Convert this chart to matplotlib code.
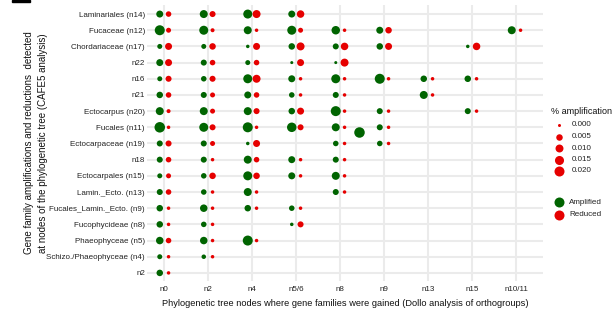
import numpy as np
import matplotlib
matplotlib.use("Agg")
import matplotlib.pyplot as plt
from matplotlib.patches import Rectangle

plt.rcParams['font.family'] = ['Liberation Sans', 'DejaVu Sans']

nan = np.nan

# nodes where gene families were gained (x) and tree nodes (y, top to bottom)
gain_nodes = ['n0', 'n2', 'n4', 'n5/6', 'n8', 'n9', 'n13', 'n15', 'n10/11']
tree_nodes = ['Laminariales (n14)', 'Fucaceae (n12)', 'Chordariaceae (n17)', 'n22',
              'n16', 'n21', 'Ectocarpus (n20)', 'Fucales (n11)', 'Ectocarpaceae (n19)',
              'n18', 'Ectocarpales (n15)', 'Lamin._Ecto. (n13)', 'Fucales_Lamin._Ecto. (n9)',
              'Fucophycideae (n8)', 'Phaeophyceae (n5)', 'Schizo./Phaeophyceae (n4)', 'n2']

# % amplification per tree node (rows) and gain node (columns)
amplified = [
    [0.0065, 0.0102, 0.0147, 0.0065, nan, nan, nan, nan, nan],
    [0.0200, 0.0147, 0.0102, 0.0147, 0.0123, 0.0065, nan, nan, 0.0102],
    [0.0016, 0.0016, 0.0001, 0.0050, 0.0037, 0.0050, nan, 0.0001, nan],
    [0.0065, 0.0037, 0.0016, 0.0000, 0.0000, nan, nan, nan, nan],
    [0.0016, 0.0026, 0.0147, 0.0065, 0.0147, 0.0200, 0.0050, 0.0050, nan],
    [0.0050, 0.0037, 0.0065, 0.0026, 0.0037, nan, 0.0102, nan, nan],
    [0.0102, 0.0102, 0.0102, 0.0050, 0.0200, 0.0037, nan, 0.0037, nan],
    [0.0230, 0.0147, 0.0200, 0.0172, 0.0102, 0.0037, nan, nan, nan],
    [0.0037, 0.0037, 0.0001, nan, 0.0026, 0.0026, nan, nan, nan],
    [0.0037, 0.0037, 0.0102, 0.0065, 0.0037, nan, nan, nan, nan],
    [0.0016, 0.0026, 0.0147, 0.0065, 0.0102, nan, nan, nan, nan],
    [0.0037, 0.0026, 0.0102, nan, 0.0037, nan, nan, nan, nan],
    [0.0050, 0.0083, 0.0050, 0.0026, nan, nan, nan, nan, nan],
    [0.0050, 0.0026, nan, 0.0001, nan, nan, nan, nan, nan],
    [0.0083, 0.0083, 0.0200, nan, nan, nan, nan, nan, nan],
    [0.0016, 0.0009, nan, nan, nan, nan, nan, nan, nan],
    [0.0050, nan, nan, nan, nan, nan, nan, nan, nan],
]

reduced = [
    [0.0026, 0.0037, 0.0102, 0.0083, nan, nan, nan, nan, nan],
    [0.0016, 0.0004, 0.0001, 0.0016, 0.0001, 0.0050, nan, nan, 0.0001],
    [0.0065, 0.0050, 0.0065, 0.0102, 0.0083, 0.0065, nan, 0.0083, nan],
    [0.0065, 0.0026, 0.0026, 0.0065, 0.0102, nan, nan, nan, nan],
    [0.0037, 0.0037, 0.0102, 0.0001, 0.0001, 0.0001, 0.0001, 0.0001, nan],
    [0.0026, 0.0016, 0.0026, 0.0001, 0.0001, nan, 0.0001, nan, nan],
    [0.0004, 0.0016, 0.0037, 0.0065, 0.0001, 0.0001, nan, 0.0001, nan],
    [0.0001, 0.0037, 0.0001, 0.0037, 0.0001, 0.0001, nan, nan, nan],
    [0.0037, 0.0016, 0.0065, nan, 0.0001, 0.0001, nan, nan, nan],
    [0.0026, 0.0001, 0.0026, 0.0001, 0.0001, nan, nan, nan, nan],
    [0.0016, 0.0050, 0.0050, 0.0001, 0.0001, nan, nan, nan, nan],
    [0.0026, 0.0001, 0.0001, nan, 0.0001, nan, nan, nan, nan],
    [0.0001, 0.0001, 0.0001, 0.0001, nan, nan, nan, nan, nan],
    [0.0001, 0.0001, nan, 0.0037, nan, nan, nan, nan, nan],
    [0.0026, 0.0001, 0.0001, nan, nan, nan, nan, nan, nan],
    [0.0001, 0.0001, nan, nan, nan, nan, nan, nan, nan],
    [0.0001, nan, nan, nan, nan, nan, nan, nan, nan],
]

# one misplaced amplified point between n8 and n9 in the Fucales row
stray_node = ['n8']
stray_row = ['Fucales (n11)']
stray_amp = [0.023]
stray_shift = (0.42, 0.3)

legend_values = [0.000, 0.005, 0.010, 0.015, 0.020]

GREEN = '#006400'
RED = '#E60000'
DODGE = 0.1


def size_of(v):
    # ggplot-like area scale: diameter in px from 3 to 10
    d_px = 3 + 7 * np.sqrt(np.asarray(v, dtype=float) / 0.02)
    return (d_px * 0.72) ** 2


fig = plt.figure(figsize=(6.13, 3.10), dpi=100)
ax = fig.add_axes([147 / 613, 1 - 281 / 310, 396 / 613, 276 / 310])

amp = np.array(amplified)
red = np.array(reduced)
rows, cols = np.indices(amp.shape)

m = ~np.isnan(amp)
ax.scatter(cols[m] - DODGE, rows[m], s=size_of(amp[m]), color=GREEN,
           linewidths=0, zorder=3)
m = ~np.isnan(red)
ax.scatter(cols[m] + DODGE, rows[m], s=size_of(red[m]), color=RED,
           linewidths=0, zorder=3)

sx = [gain_nodes.index(n) + stray_shift[0] for n in stray_node]
sy = [tree_nodes.index(r) + stray_shift[1] for r in stray_row]
ax.scatter(sx, sy, s=size_of(stray_amp), color=GREEN, linewidths=0, zorder=3)

ax.set_xticks(range(len(gain_nodes)))
ax.set_xticklabels(gain_nodes)
ax.set_yticks(range(len(tree_nodes)))
ax.set_yticklabels(tree_nodes)
ax.set_xlim(-0.39, 8.61)
ax.set_ylim(16.5, -0.56)

ax.grid(True, color='#EBEBEB', linewidth=1.5)
ax.set_axisbelow(True)
for sp in ax.spines.values():
    sp.set_visible(False)
ax.tick_params(axis='y', length=0, pad=1.5, labelsize=5.8, labelcolor='#222222')
ax.tick_params(axis='x', length=0, pad=3.5, labelsize=5.8, labelcolor='#222222')

ax.set_xlabel('Phylogenetic tree nodes where gene families were gained (Dollo analysis of orthogroups)',
              fontsize=6.7, color='#111111', labelpad=4.5)
fig.text(29 / 613, 1 - 143 / 310,
         'Gene family amplifications and reductions  detected',
         rotation=90, ha='center', va='center', fontsize=7.0, color='#111111')
fig.text(43 / 613, 1 - 143 / 310,
         'at nodes of the phylogenetic tree (CAFE5 analysis)',
         rotation=90, ha='center', va='center', fontsize=7.0, color='#111111')

# size legend
fig.text(551 / 613, 1 - 111 / 310, '% amplification', ha='left', va='center',
         fontsize=6.5, color='#111111')
for i, v in enumerate(legend_values):
    y = 1 - (125 + 11.5 * i) / 310
    fig.add_artist(plt.Line2D([559 / 613], [y], marker='o', linestyle='none',
                              markersize=np.sqrt(size_of(v)), color=RED,
                              markeredgewidth=0, transform=fig.transFigure))
    fig.text(572 / 613, y, f'{v:.3f}', ha='left', va='center', fontsize=5.8,
             color='#222222')

# colour legend
for i, (lab, col) in enumerate([('Amplified', GREEN), ('Reduced', RED)]):
    y = 1 - (202 + 13 * i) / 310
    fig.add_artist(plt.Line2D([559 / 613], [y], marker='o', linestyle='none',
                              markersize=np.sqrt(size_of(0.02)), color=col,
                              markeredgewidth=0, transform=fig.transFigure))
    fig.text(569 / 613, y, lab, ha='left', va='center', fontsize=5.8,
             color='#222222')

# cropped black mark in the top-left corner
fig.add_artist(Rectangle((12 / 613, 1 - 2 / 310), 18 / 613, 2 / 310,
                         color='black', transform=fig.transFigure))

fig.savefig('out.png', dpi=100)
